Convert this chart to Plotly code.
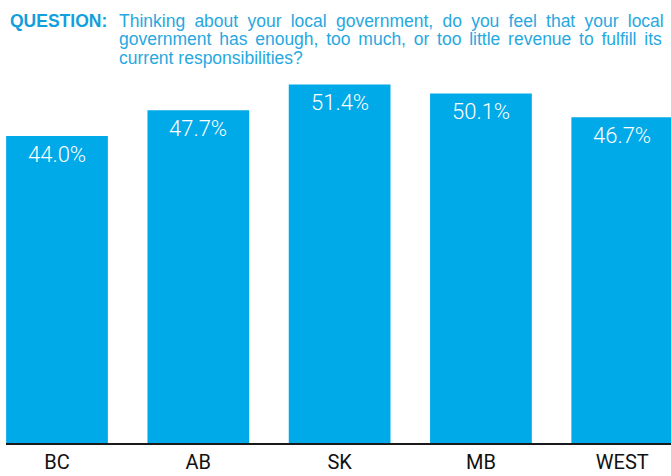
import plotly.graph_objects as go

# Share of respondents by region
regions = ["BC", "AB", "SK", "MB", "WEST"]
shares = [44.0, 47.7, 51.4, 50.1, 46.7]

question_label = "QUESTION:"
question_lines = [
    "Thinking about your local government, do you feel that your local",
    "government has enough, too much, or too little revenue to fulfill its",
    "current responsibilities?",
]
# extra inter-word spacing used to justify the first two lines
line_gaps = ["\u2005", "\u2006", ""]

BAR_BLUE = "#00A9E8"
TITLE_BLUE = "#129FDD"
TEXT_BLUE = "#27A8E0"
SANS = "Liberation Sans, Arial, sans-serif"
LABEL_FONT = "Roboto, Liberation Sans, sans-serif"

fig = go.Figure()
fig.add_trace(go.Bar(
    x=list(range(len(regions))),
    y=shares,
    width=0.72,
    marker=dict(color=BAR_BLUE, line=dict(width=0)),
    hoverinfo="skip",
))

# value labels just inside the top of each bar
for i, v in enumerate(shares):
    fig.add_annotation(
        x=i, y=v, xref="x", yref="y",
        text=f"{v:.1f}%", showarrow=False,
        yanchor="middle", yshift=-18,
        font=dict(family=LABEL_FONT, size=22, color="white", weight=300),
    )

# question heading, positioned in pixels and converted below
fig.add_annotation(
    x=8, y=20.5, xref="paper", yref="paper",
    text=f"<b>{question_label}</b>", showarrow=False,
    xanchor="left", yanchor="middle",
    font=dict(family=SANS, size=17.5, color=TITLE_BLUE),
)
for k, (line, gap) in enumerate(zip(question_lines, line_gaps)):
    fig.add_annotation(
        x=117, y=20.5 + 18.5 * k, xref="paper", yref="paper",
        text=line.replace(" ", " " + gap), showarrow=False,
        xanchor="left", yanchor="middle",
        font=dict(family=SANS, size=17.5, color=TEXT_BLUE),
    )

fig.update_layout(
    width=671, height=476,
    margin=dict(l=6, r=0, t=80, b=33),
    paper_bgcolor="white", plot_bgcolor="white",
    showlegend=False,
    xaxis=dict(
        range=[-0.361, 4.345],
        tickmode="array", tickvals=list(range(len(regions))), ticktext=regions,
        showline=True, linecolor="#1a1a1a", linewidth=2,
        showgrid=False, zeroline=False, ticks="",
        tickfont=dict(family=LABEL_FONT, size=20, color="#111111"),
        fixedrange=True,
    ),
    yaxis=dict(
        range=[0, 52.03], visible=False, fixedrange=True,
    ),
)

# heading coordinates were given in pixels: convert to paper coordinates
plot_w = 671 - 6
plot_h = 476 - 80 - 33
for ann in fig.layout.annotations:
    if ann.xref == "paper":
        ann.x = (ann.x - 6) / plot_w
        ann.y = (476 - 33 - ann.y) / plot_h

fig.write_html("out.html")
